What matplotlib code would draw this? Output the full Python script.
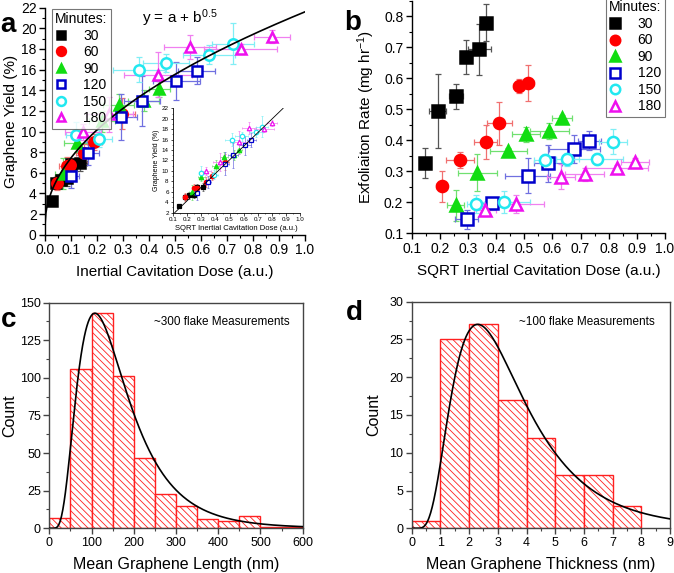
import numpy as np
import matplotlib
matplotlib.use("Agg")
import matplotlib.pyplot as plt
from matplotlib.ticker import MultipleLocator

plt.rcParams['font.family'] = ['Liberation Sans', 'DejaVu Sans']
plt.rcParams['mathtext.default'] = 'regular'
plt.rcParams['hatch.linewidth'] = 0.6

# ---------------- data ----------------
series_names = ['30', '60', '90', '120', '150', '180']

# panel a: inertial cavitation dose vs graphene yield
a_x = {
    '30': [0.025, 0.042, 0.083, 0.100, 0.135, 0.060],
    '60': [0.045, 0.085, 0.095, 0.150, 0.190, 0.295],
    '90': [0.070, 0.124, 0.220, 0.283, 0.380, 0.440],
    '120': [0.100, 0.166, 0.292, 0.374, 0.505, 0.583],
    '150': [0.120, 0.206, 0.363, 0.465, 0.631, 0.724],
    '180': [0.147, 0.247, 0.435, 0.558, 0.753, 0.872],
}
a_y = {
    '30': [3.3, 5.0, 5.45, 6.85, 6.95, 5.3],
    '60': [5.0, 6.7, 6.8, 7.9, 9.0, 11.7],
    '90': [5.9, 8.85, 11.0, 12.6, 13.0, 14.1],
    '120': [5.7, 7.87, 11.4, 12.97, 14.9, 15.9],
    '150': [9.7, 9.3, 16.0, 16.65, 17.45, 18.5],
    '180': [9.97, 11.65, 15.5, 18.2, 18.0, 19.2],
}
a_xerr = {
    '30': [0.01, 0.015, 0.02, 0.02, 0.025, 0.015],
    '60': [0.02, 0.03, 0.03, 0.03, 0.03, 0.05],
    '90': [0.03, 0.05, 0.05, 0.06, 0.06, 0.04],
    '120': [0.03, 0.04, 0.06, 0.07, 0.09, 0.07],
    '150': [0.04, 0.05, 0.10, 0.09, 0.10, 0.08],
    '180': [0.07, 0.09, 0.13, 0.10, 0.14, 0.07],
}
a_yerr = {
    '30': [0.4, 0.6, 0.7, 0.6, 0.8, 0.6],
    '60': [0.7, 0.8, 0.6, 0.9, 0.8, 1.5],
    '90': [1.5, 0.8, 1.0, 1.0, 1.0, 0.8],
    '120': [1.2, 1.1, 2.2, 2.4, 1.8, 1.3],
    '150': [1.2, 0.8, 1.2, 0.9, 0.9, 2.0],
    '180': [0.8, 1.7, 2.2, 1.2, 0.5, 0.6],
}
fit_a, fit_b = 0.9, 20.7          # y = a + b*x^0.5

# inset: SQRT inertial cavitation dose vs graphene yield (yields as in a_y)
inset_x = {
    '30': [0.14, 0.18, 0.25, 0.27, 0.31, 0.21],
    '60': [0.18, 0.25, 0.265, 0.33, 0.375, 0.47],
    '90': [0.23, 0.30, 0.40, 0.46, 0.53, 0.57],
    '120': [0.27, 0.35, 0.465, 0.525, 0.61, 0.655],
    '150': [0.30, 0.39, 0.52, 0.585, 0.685, 0.73],
    '180': [0.33, 0.43, 0.57, 0.64, 0.745, 0.80],
}
inset_line_x = [0.11, 0.88]
inset_line_y = [2.0, 22.0]

# panel b: SQRT inertial cavitation dose vs exfoliation rate
b_x = {
    '30': [0.147, 0.192, 0.256, 0.292, 0.340, 0.364],
    '60': [0.207, 0.272, 0.363, 0.411, 0.481, 0.514],
    '90': [0.256, 0.333, 0.443, 0.505, 0.589, 0.633],
    '120': [0.295, 0.385, 0.513, 0.583, 0.678, 0.731],
    '150': [0.328, 0.429, 0.574, 0.653, 0.759, 0.816],
    '180': [0.360, 0.469, 0.629, 0.715, 0.830, 0.894],
}
b_y = {
    '30': [0.326, 0.494, 0.542, 0.669, 0.693, 0.778],
    '60': [0.252, 0.336, 0.395, 0.454, 0.575, 0.585],
    '90': [0.191, 0.295, 0.365, 0.419, 0.430, 0.470],
    '120': [0.145, 0.197, 0.286, 0.326, 0.373, 0.398],
    '150': [0.194, 0.202, 0.336, 0.338, 0.339, 0.395],
    '180': [0.175, 0.194, 0.282, 0.290, 0.310, 0.331],
}
b_xerr = {
    '30': [0.015, 0.030, 0.025, 0.022, 0.040, 0.015],
    '60': [0.020, 0.050, 0.040, 0.045, 0.020, 0.020],
    '90': [0.030, 0.070, 0.065, 0.050, 0.070, 0.035],
    '120': [0.040, 0.040, 0.080, 0.050, 0.090, 0.040],
    '150': [0.030, 0.090, 0.040, 0.040, 0.090, 0.050],
    '180': [0.040, 0.100, 0.050, 0.070, 0.110, 0.050],
}
b_yerr = {
    '30': [0.048, 0.118, 0.040, 0.055, 0.082, 0.060],
    '60': [0.050, 0.025, 0.055, 0.068, 0.022, 0.058],
    '90': [0.050, 0.060, 0.010, 0.025, 0.025, 0.010],
    '120': [0.030, 0.015, 0.055, 0.060, 0.045, 0.030],
    '150': [0.030, 0.035, 0.020, 0.020, 0.020, 0.040],
    '180': [0.020, 0.030, 0.040, 0.020, 0.010, 0.010],
}

# panel c: length histogram
c_edges = [0, 50, 100, 150, 200, 250, 300, 350, 400, 450, 500, 550, 600]
c_counts = [7, 106, 143, 101, 47, 23, 15, 6, 5, 8, 1, 1]
c_peak, c_mode, c_width = 143, 108, 0.55     # log-normal fit

# panel d: thickness histogram
d_edges = [0, 1, 2, 3, 4, 5, 6, 7, 8]
d_counts = [1, 25, 27, 17, 12, 7, 7, 3]
d_peak, d_mode, d_width = 27, 2.3, 0.55

# ---------------- styles ----------------
style = {
    '30': dict(marker='s', mfc='black', mec='black', ecol='#555555'),
    '60': dict(marker='o', mfc='#ff0000', mec='#ff0000', ecol='#f07070'),
    '90': dict(marker='^', mfc='#11dd11', mec='#11dd11', ecol='#70e070'),
    '120': dict(marker='s', mfc='white', mec='#0000cc', ecol='#7070e0'),
    '150': dict(marker='o', mfc='white', mec='#22e8f0', ecol='#80eef5'),
    '180': dict(marker='^', mfc='white', mec='#ee11ee', ecol='#f080f0'),
}

fig = plt.figure(figsize=(6.74, 5.73), dpi=100)


def style_axes(ax, full_box=False, color='black'):
    ax.tick_params(which='both', direction='out', colors=color, labelcolor='black', pad=2)
    ax.tick_params(which='major', length=4, width=1)
    ax.tick_params(which='minor', length=2, width=0.8)
    if full_box:
        for s in ax.spines.values():
            s.set_color(color)
            s.set_linewidth(1.0)
    else:
        ax.spines['top'].set_visible(False)
        ax.spines['right'].set_visible(False)
        ax.spines['left'].set_linewidth(1.0)
        ax.spines['bottom'].set_linewidth(1.0)


def lognorm(x, peak, mode, w):
    xc = mode * np.exp(w ** 2)
    f = np.exp(-(np.log(x / xc)) ** 2 / (2 * w ** 2)) / x
    fm = np.exp(-(np.log(mode / xc)) ** 2 / (2 * w ** 2)) / mode
    return peak * f / fm


def legend_for(ax, anchor, loc):
    leg = ax.legend(title='Minutes:', loc=loc, bbox_to_anchor=anchor,
                    fontsize=10, title_fontsize=10, frameon=True, fancybox=False,
                    edgecolor='#555555', handlelength=0.8, handletextpad=1.2,
                    borderpad=0.25, labelspacing=0.18, borderaxespad=0.0,
                    markerscale=0.85)
    leg.get_frame().set_linewidth(0.8)
    return leg

# ---------------- panel a ----------------
axa = fig.add_axes([45 / 674, 1 - 234.7 / 573, 260 / 674, 227 / 573])
for k in series_names:
    st = style[k]
    axa.errorbar(a_x[k], a_y[k], xerr=a_xerr[k], yerr=a_yerr[k], fmt='none',
                 ecolor=st['ecol'], elinewidth=0.9, capsize=2.5, capthick=0.9, zorder=2)
for k in series_names:
    st = style[k]
    axa.plot(a_x[k], a_y[k], ls='none', marker=st['marker'], ms=7.5,
             mfc=st['mfc'], mec=st['mec'], mew=1.8, zorder=3, label=k)
xf = np.linspace(0, 1.0, 300)
axa.plot(xf, fit_a + fit_b * np.sqrt(xf), color='black', lw=1.2, zorder=4)
axa.set_xlim(0, 1.0)
axa.set_ylim(0, 22)
axa.set_xticks(np.arange(0, 1.01, 0.1))
axa.set_xticklabels([f'{v:.1f}' for v in np.arange(0, 1.01, 0.1)])
axa.xaxis.set_minor_locator(MultipleLocator(0.05))
axa.set_yticks(np.arange(0, 22.1, 2))
axa.yaxis.set_minor_locator(MultipleLocator(1))
style_axes(axa)
axa.tick_params(labelsize=10)
axa.set_xlabel('Inertial Cavitation Dose (a.u.)', fontsize=11, labelpad=6)
axa.set_ylabel('Graphene Yield (%)', fontsize=11, labelpad=2)
axa.text(0.52, 21.0, 'y = a + b$^{0.5}$', fontsize=11, ha='center', va='center')
legend_for(axa, (0.025, 0.995), 'upper left')

# inset
axi = fig.add_axes([173.3 / 674, 1 - 212.7 / 573, 126.7 / 674, 104.4 / 573])
for k in series_names:
    st = style[k]
    axi.errorbar(inset_x[k], a_y[k], xerr=np.array(a_xerr[k]) * 0.5, yerr=a_yerr[k],
                 fmt='none', ecolor=st['ecol'], elinewidth=0.5, capsize=1.0,
                 capthick=0.5, zorder=2)
    axi.plot(inset_x[k], a_y[k], ls='none', marker=st['marker'], ms=3.2,
             mfc=st['mfc'], mec=st['mec'], mew=0.9, zorder=3)
axi.plot(inset_line_x, inset_line_y, color='black', lw=0.6, zorder=4)
axi.set_xlim(0.1, 1.0)
axi.set_ylim(2, 22)
axi.set_xticks(np.arange(0.1, 1.01, 0.1))
axi.set_xticklabels([f'{v:.1f}' for v in np.arange(0.1, 1.01, 0.1)])
axi.xaxis.set_minor_locator(MultipleLocator(0.05))
axi.set_yticks(np.arange(2, 22.1, 2))
axi.yaxis.set_minor_locator(MultipleLocator(1))
axi.patch.set_alpha(0)
axi.spines['top'].set_visible(False)
axi.spines['right'].set_visible(False)
for s in ('left', 'bottom'):
    axi.spines[s].set_linewidth(0.6)
axi.tick_params(which='both', direction='out', labelsize=4.5, pad=1.5)
axi.tick_params(which='major', length=1.8, width=0.5)
axi.tick_params(which='minor', length=1.0, width=0.4)
axi.set_xlabel('SQRT Inertial Cavitation Dose (a.u.)', fontsize=5.5, labelpad=2)
axi.set_ylabel('Graphene Yield (%)', fontsize=5.0, labelpad=1)

# ---------------- panel b ----------------
axb = fig.add_axes([411.7 / 674, 1 - 233.3 / 573, 253.3 / 674, 232.8 / 573])
for k in series_names:
    st = style[k]
    axb.errorbar(b_x[k], b_y[k], xerr=b_xerr[k], yerr=b_yerr[k], fmt='none',
                 ecolor=st['ecol'], elinewidth=0.9, capsize=2.5, capthick=0.9, zorder=2)
for k in series_names:
    st = style[k]
    axb.plot(b_x[k], b_y[k], ls='none', marker=st['marker'], ms=8,
             mfc=st['mfc'], mec=st['mec'], mew=1.8, zorder=3, label=k)
axb.set_xlim(0.1, 1.0)
axb.set_ylim(0.1, 0.85)
axb.set_xticks(np.arange(0.1, 1.01, 0.1))
axb.set_xticklabels([f'{v:.1f}' for v in np.arange(0.1, 1.01, 0.1)])
axb.xaxis.set_minor_locator(MultipleLocator(0.05))
axb.set_yticks(np.arange(0.1, 0.81, 0.1))
axb.set_yticklabels([f'{v:.1f}' for v in np.arange(0.1, 0.81, 0.1)])
axb.yaxis.set_minor_locator(MultipleLocator(0.05))
style_axes(axb)
axb.tick_params(labelsize=10)
axb.set_xlabel('SQRT Inertial Cavitation Dose (a.u.)', fontsize=11, labelpad=6)
axb.set_ylabel('Exfoliaiton Rate (mg hr$^{-1}$)', fontsize=11, labelpad=5)
legend_for(axb, (1.0, 1.015), 'upper right')

# ---------------- panel c ----------------
axc = fig.add_axes([49.3 / 674, 1 - 528.3 / 573, 253.4 / 674, 225.6 / 573])
c_left = np.array(c_edges[:-1])
c_w = np.diff(c_edges)
axc.bar(c_left, c_counts, width=c_w, align='edge', facecolor='white',
        edgecolor='#ff2020', linewidth=1.0, hatch='\\\\\\\\\\', zorder=2)
xc_ = np.linspace(1, 600, 600)
axc.plot(xc_, lognorm(xc_, c_peak, c_mode, c_width), color='black', lw=1.2, zorder=3)
axc.set_xlim(0, 600)
axc.set_ylim(0, 150)
axc.xaxis.set_major_locator(MultipleLocator(100))
axc.xaxis.set_minor_locator(MultipleLocator(50))
axc.yaxis.set_major_locator(MultipleLocator(25))
axc.yaxis.set_minor_locator(MultipleLocator(12.5))
style_axes(axc, full_box=True, color='#444444')
axc.tick_params(labelsize=9)
axc.set_xlabel('Mean Graphene Length (nm)', fontsize=11.5, labelpad=6)
axc.set_ylabel('Count', fontsize=11.5, labelpad=2)
axc.text(408, 137, '~300 flake Measurements', fontsize=8.5, ha='center', va='center')

# ---------------- panel d ----------------
axd = fig.add_axes([411.7 / 674, 1 - 528.3 / 573, 258.3 / 674, 226.6 / 573])
d_left = np.array(d_edges[:-1])
d_w = np.diff(d_edges)
axd.bar(d_left, d_counts, width=d_w, align='edge', facecolor='white',
        edgecolor='#ff2020', linewidth=1.0, hatch='\\\\\\\\\\', zorder=2)
xd_ = np.linspace(0.05, 9, 500)
axd.plot(xd_, lognorm(xd_, d_peak, d_mode, d_width), color='black', lw=1.2, zorder=3)
axd.set_xlim(0, 9)
axd.set_ylim(0, 30)
axd.xaxis.set_major_locator(MultipleLocator(1))
axd.xaxis.set_minor_locator(MultipleLocator(0.5))
axd.yaxis.set_major_locator(MultipleLocator(5))
axd.yaxis.set_minor_locator(MultipleLocator(2.5))
style_axes(axd, full_box=True, color='#444444')
axd.tick_params(labelsize=9)
axd.set_xlabel('Mean Graphene Thickness (nm)', fontsize=11.5, labelpad=6)
axd.set_ylabel('Count', fontsize=11.5, labelpad=6)
axd.text(6.1, 27.3, '~100 flake Measurements', fontsize=8.5, ha='center', va='center')

# panel letters
fig.text(8 / 674, 1 - 25 / 573, 'a', fontsize=20, fontweight='bold', ha='center', va='center')
fig.text(353 / 674, 1 - 23 / 573, 'b', fontsize=20, fontweight='bold', ha='center', va='center')
fig.text(9 / 674, 1 - 320 / 573, 'c', fontsize=20, fontweight='bold', ha='center', va='center')
fig.text(354 / 674, 1 - 313 / 573, 'd', fontsize=20, fontweight='bold', ha='center', va='center')

fig.savefig('out.png', dpi=100)
